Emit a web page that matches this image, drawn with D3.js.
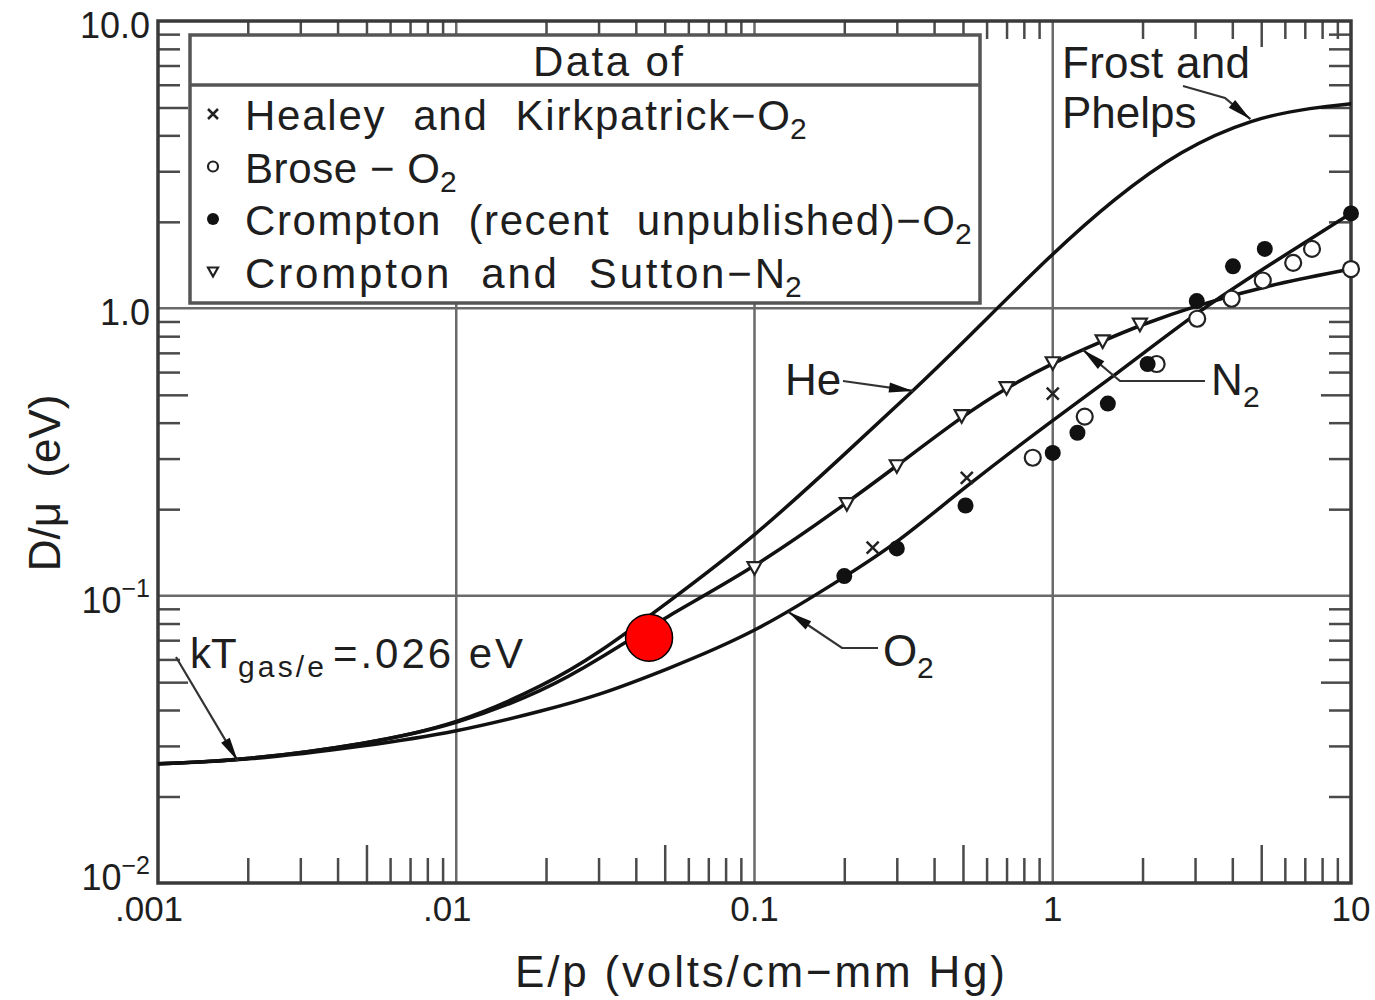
<!DOCTYPE html>
<html>
<head>
<meta charset="utf-8">
<script src="https://cdn.jsdelivr.net/npm/d3@7"></script>
<style>
    body { margin: 0; background: #fff; }
    svg text { font-family: "Liberation Sans", Arial, sans-serif; fill: #1e1e1e; white-space: pre; }
</style>
</head>
<body>
<svg id="chart" width="1375" height="1000"></svg>
<script>
// Curves: [E/p, D/mu]
const heliumCurve = [[0.001, 0.026], [0.002, 0.0268], [0.005, 0.0305], [0.01, 0.0355], [0.02, 0.049], [0.03, 0.063],
    [0.05, 0.093], [0.1, 0.16], [0.2, 0.31], [0.34, 0.516], [0.5, 0.76], [1, 1.56], [1.6, 2.4], [2.67, 3.55],
    [4.7, 4.6], [7.5, 5.0], [10, 5.15]];
const nitrogenCurve = [[0.001, 0.026], [0.002, 0.0268], [0.005, 0.0305], [0.01, 0.0355], [0.02, 0.047], [0.03, 0.06],
    [0.05, 0.084], [0.1, 0.125], [0.2, 0.207], [0.3, 0.283], [0.5, 0.423], [0.7, 0.529], [1, 0.646], [1.47, 0.77],
    [2, 0.88], [3, 1.02], [5.2, 1.2], [10, 1.37]];
const oxygenCurve = [[0.001, 0.026], [0.002, 0.0267], [0.005, 0.03], [0.01, 0.0335], [0.02, 0.04], [0.03, 0.045],
    [0.05, 0.055], [0.1, 0.074], [0.2, 0.116], [0.3, 0.152], [0.5, 0.236], [1, 0.409], [1.6, 0.58],
    [3, 0.96], [5, 1.36], [10, 2.14]];

// Measured points
const healeyO2 = [[0.249, 0.147], [0.515, 0.257], [1.0, 0.505]];
const broseO2 = [[0.857, 0.302], [1.28, 0.42], [2.23, 0.64], [3.05, 0.92], [3.98, 1.08], [5.06, 1.25], [6.4, 1.44], [7.4, 1.61], [10, 1.37]];
const cromptonO2 = [[0.2, 0.117], [0.3, 0.146], [0.51, 0.206], [1.0, 0.314], [1.21, 0.369], [1.53, 0.466], [2.08, 0.64],
    [3.04, 1.06], [4.02, 1.40], [5.14, 1.61], [10, 2.14]];
const cromptonN2 = [[0.1, 0.125], [0.204, 0.209], [0.3, 0.283], [0.495, 0.423], [0.7, 0.529], [1.0, 0.646], [1.47, 0.77], [1.96, 0.88]];
const highlight = [[0.0443, 0.0714]];

// Axes
const xTickValues = [0.001, 0.01, 0.1, 1, 10];
const xTickLabels = [".001", ".01", "0.1", "1", "10"];
const yTickValues = [0.01, 0.1, 1, 10];
const yTickLabels = [["10", "−2"], ["10", "−1"], ["1.0", ""], ["10.0", ""]];
const xGrid = [0.01, 0.1, 1];
const yGrid = [0.1, 1];

const legendTitle = "Data of";
const legendLabels = [["Healey  and  Kirkpatrick−O", "2"], ["Brose − O", "2"], ["Crompton  (recent  unpublished)−O", "2"], ["Crompton  and  Sutton−N", "2"]];
const legendWidths = [545, 195, 710, 540];
const legendSymbols = ["cross", "open", "filled", "triangle"];

const svg = d3.select("#chart");
const x = d3.scaleLog().domain([0.001, 10]).range([158, 1351]);
const y = d3.scaleLog().domain([0.01, 10]).range([883, 21]);

const mantissa = v => Math.round(v / Math.pow(10, Math.floor(Math.log10(v) + 1e-9)));
const xMinor = x.ticks().filter(v => mantissa(v) !== 1 && mantissa(v) !== 5);
const xFive = x.ticks().filter(v => mantissa(v) === 5);
const yMinor = y.ticks().filter(v => mantissa(v) !== 1 && mantissa(v) !== 5);
const yFive = y.ticks().filter(v => mantissa(v) === 5);

const axisColor = "#3a3a3a";

// Grid lines
svg.selectAll(".vgrid").data(xGrid).enter().append("line")
    .attr("x1", d => x(d)).attr("x2", d => x(d))
    .attr("y1", y(10)).attr("y2", y(0.01))
    .attr("stroke", "#6a6a6a").attr("stroke-width", 2.5);
svg.selectAll(".hgrid").data(yGrid).enter().append("line")
    .attr("x1", x(0.001)).attr("x2", x(10))
    .attr("y1", d => y(d)).attr("y2", d => y(d))
    .attr("stroke", "#6a6a6a").attr("stroke-width", 2.5);

// Minor ticks (all pointing inward)
function tickAxis(axis, transform) {
    svg.append("g").attr("transform", transform).call(axis)
        .call(g => g.select(".domain").remove())
        .call(g => g.selectAll("line").attr("stroke", "#4a4a4a").attr("stroke-width", 2.5));
}
tickAxis(d3.axisBottom(x).tickValues(xMinor).tickSize(-25).tickFormat(""), `translate(0,${y(0.01)})`);
tickAxis(d3.axisBottom(x).tickValues(xFive).tickSize(-38).tickFormat(""), `translate(0,${y(0.01)})`);
tickAxis(d3.axisTop(x).tickValues(xMinor).tickSize(-18).tickFormat(""), `translate(0,${y(10)})`);
tickAxis(d3.axisTop(x).tickValues(xFive).tickSize(-26).tickFormat(""), `translate(0,${y(10)})`);
tickAxis(d3.axisLeft(y).tickValues(yMinor).tickSize(-22).tickFormat(""), `translate(${x(0.001)},0)`);
tickAxis(d3.axisLeft(y).tickValues(yFive).tickSize(-30).tickFormat(""), `translate(${x(0.001)},0)`);
tickAxis(d3.axisRight(y).tickValues(yMinor).tickSize(-22).tickFormat(""), `translate(${x(10)},0)`);
tickAxis(d3.axisRight(y).tickValues(yFive).tickSize(-30).tickFormat(""), `translate(${x(10)},0)`);

// Frame
svg.append("rect")
    .attr("x", x(0.001)).attr("y", y(10))
    .attr("width", x(10) - x(0.001)).attr("height", y(0.01) - y(10))
    .attr("fill", "none").attr("stroke", axisColor).attr("stroke-width", 3.5);

// Tick labels
svg.selectAll(".xlab").data(xTickValues).enter().append("text")
    .attr("x", d => x(d)).attr("y", 921)
    .attr("dx", (d, i) => xTickLabels[i].startsWith(".") ? -9 : 0)
    .attr("text-anchor", "middle").style("font-size", "35px")
    .text((d, i) => xTickLabels[i]);

const yLab = svg.selectAll(".ylab").data(yTickValues).enter().append("text")
    .attr("x", 150).attr("y", d => y(d) + (d === 0.01 ? 7 : 17))
    .attr("text-anchor", "end").style("font-size", "36px");
yLab.append("tspan").text((d, i) => yTickLabels[i][0]);
yLab.append("tspan").attr("dy", -16).style("font-size", "25px").text((d, i) => yTickLabels[i][1]);

// Axis titles
svg.append("text")
    .attr("transform", "translate(60,483) rotate(-90)")
    .attr("text-anchor", "middle").style("font-size", "44px").style("word-spacing", "12px")
    .text("D/μ (eV)");
svg.append("text")
    .attr("x", 515).attr("y", 987)
    .attr("textLength", 490).attr("lengthAdjust", "spacing")
    .style("font-size", "44px")
    .text("E/p (volts/cm−mm Hg)");

// Curves
const line = d3.line().x(d => x(d[0])).y(d => y(d[1])).curve(d3.curveBasis);
[heliumCurve, nitrogenCurve, oxygenCurve].forEach(c => {
    svg.append("path").datum(c)
        .attr("d", line)
        .attr("fill", "none").attr("stroke", "#111").attr("stroke-width", 3.5);
});

// Legend box
const legend = svg.append("g");
legend.append("rect").attr("x", 190).attr("y", 35).attr("width", 790).attr("height", 268)
    .attr("fill", "#fff").attr("stroke", "#555").attr("stroke-width", 3.5);
legend.append("line").attr("x1", 190).attr("x2", 980).attr("y1", 85).attr("y2", 85)
    .attr("stroke", "#555").attr("stroke-width", 3.5);
legend.append("text").attr("x", 533).attr("y", 76)
    .attr("textLength", 150).attr("lengthAdjust", "spacing")
    .style("font-size", "42px").text(legendTitle);

// Marker drawing
function drawMarker(g, kind, cx, cy, s) {
    if (kind === "cross") {
        g.append("path")
            .attr("d", `M${cx - s},${cy - s}L${cx + s},${cy + s}M${cx + s},${cy - s}L${cx - s},${cy + s}`)
            .attr("stroke", "#222").attr("stroke-width", 2.5).attr("fill", "none");
    } else if (kind === "open") {
        g.append("circle").attr("cx", cx).attr("cy", cy).attr("r", s)
            .attr("fill", "#fff").attr("stroke", "#222").attr("stroke-width", 2.2);
    } else if (kind === "filled") {
        g.append("circle").attr("cx", cx).attr("cy", cy).attr("r", s).attr("fill", "#111");
    } else {
        g.append("path")
            .attr("d", `M${cx - s},${cy - s * 0.8}L${cx + s},${cy - s * 0.8}L${cx},${cy + s}Z`)
            .attr("fill", "#fff").attr("stroke", "#222").attr("stroke-width", 2.2);
    }
}

legendLabels.forEach((lab, i) => {
    const by = 130 + i * 52.5;
    drawMarker(legend, legendSymbols[i], 213, by - 16, i === 2 ? 6 : 5);
    legend.append("text").attr("x", 245).attr("y", by)
        .attr("textLength", legendWidths[i]).attr("lengthAdjust", "spacing")
        .style("font-size", "42px").text(lab[0]);
    legend.append("text").attr("x", 245 + legendWidths[i]).attr("y", by + 9)
        .style("font-size", "30px").text(lab[1]);
});

// Data points
const pts = svg.append("g");
cromptonN2.forEach(d => drawMarker(pts, "triangle", x(d[0]), y(d[1]), 7));
broseO2.forEach(d => drawMarker(pts, "open", x(d[0]), y(d[1]), 8));
healeyO2.forEach(d => drawMarker(pts, "cross", x(d[0]), y(d[1]), 6));
cromptonO2.forEach(d => drawMarker(pts, "filled", x(d[0]), y(d[1]), 8));

// Annotations
function leader(points) {
    const n = points.length;
    svg.append("path").attr("d", d3.line()(points))
        .attr("fill", "none").attr("stroke", "#333").attr("stroke-width", 2.2);
    const [x0, y0] = points[n - 2], [x1, y1] = points[n - 1];
    const a = Math.atan2(y1 - y0, x1 - x0);
    const L = 24, W = 5;
    const bx = x1 - L * Math.cos(a), by = y1 - L * Math.sin(a);
    svg.append("path")
        .attr("d", `M${x1},${y1}L${bx - W * Math.sin(a)},${by + W * Math.cos(a)}L${bx + W * Math.sin(a)},${by - W * Math.cos(a)}Z`)
        .attr("fill", "#111");
}
const onCurve = (c, v) => {
    const i = c.findIndex(d => d[0] >= v);
    const a = c[i - 1], b = c[i];
    const t = (Math.log(v) - Math.log(a[0])) / (Math.log(b[0]) - Math.log(a[0]));
    return [x(v), y(Math.exp(Math.log(a[1]) + t * (Math.log(b[1]) - Math.log(a[1]))))];
};

leader([[843, 381], onCurve(heliumCurve, 0.34)]);
leader([[1183, 86], [1225, 98], onCurve(heliumCurve, 4.6)]);
leader([[878, 648], [842, 648], onCurve(oxygenCurve, 0.13)]);
leader([[1205, 381], [1120, 381], onCurve(nitrogenCurve, 1.26)]);
leader([[176, 657], onCurve(oxygenCurve, 0.00185)]);

svg.append("text").attr("x", 785).attr("y", 395).style("font-size", "44px").text("He");
svg.append("text").attr("x", 1062).attr("y", 78).attr("textLength", 188).attr("lengthAdjust", "spacing")
    .style("font-size", "44px").text("Frost and");
svg.append("text").attr("x", 1062).attr("y", 128).style("font-size", "44px").text("Phelps");
svg.append("text").attr("x", 1211).attr("y", 395).style("font-size", "44px").text("N");
svg.append("text").attr("x", 1243).attr("y", 407).style("font-size", "30px").text("2");
svg.append("text").attr("x", 883).attr("y", 666).style("font-size", "44px").text("O");
svg.append("text").attr("x", 917).attr("y", 678).style("font-size", "30px").text("2");
svg.append("text").attr("x", 190).attr("y", 668).style("font-size", "42px").text("kT");
svg.append("text").attr("x", 238).attr("y", 677).attr("textLength", 86).attr("lengthAdjust", "spacing")
    .style("font-size", "30px").text("gas/e");
svg.append("text").attr("x", 333).attr("y", 668).attr("textLength", 190).attr("lengthAdjust", "spacing")
    .style("font-size", "42px").text("=.026 eV");

// Highlighted point
svg.selectAll(".hl").data(highlight).enter().append("circle")
    .attr("cx", d => x(d[0])).attr("cy", d => y(d[1])).attr("r", 23.5)
    .attr("fill", "#ff0000").attr("stroke", "#000").attr("stroke-width", 1.5);
</script>
</body>
</html>
